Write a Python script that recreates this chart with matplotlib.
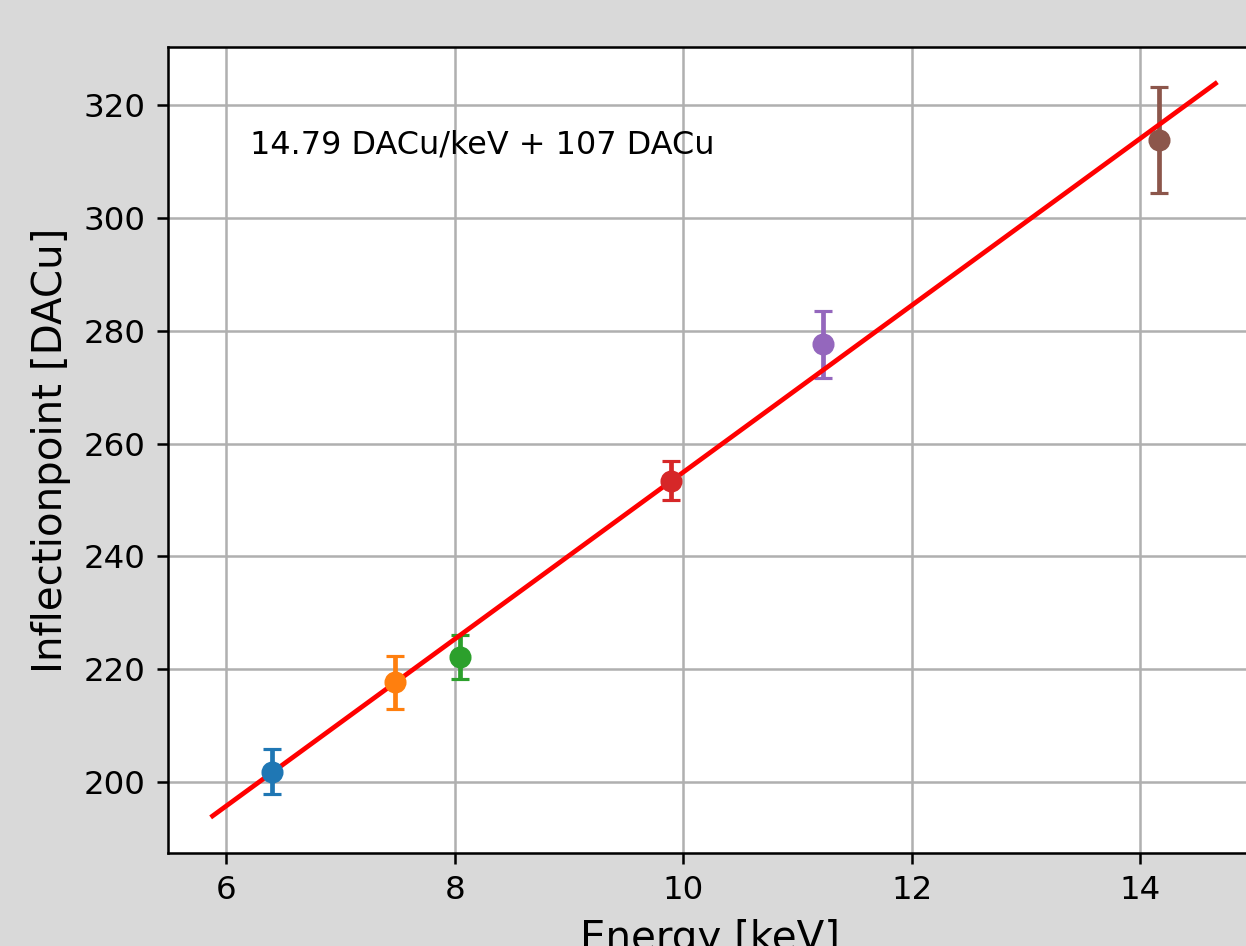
import numpy as np
import matplotlib
matplotlib.use("Agg")
import matplotlib.pyplot as plt

# Calibration points (energy in keV, inflection point in DACu)
energies = [6.40, 7.48, 8.05, 9.89, 11.22, 14.17]
inflection = [201.8, 217.7, 222.1, 253.4, 277.6, 313.8]
inflection_err = [4.0, 4.7, 3.9, 3.5, 5.9, 9.4]

# Linear fit result
slope = 14.79
offset = 107
fit_range = [5.88, 14.66]

dpi = 227
fig = plt.figure(figsize=(1246 / dpi, 946 / dpi), dpi=dpi, facecolor="#d9d9d9")
ax = fig.add_axes([168 / 1246, 93 / 946, 1084 / 1246, 806 / 946])

for i, (e, y, dy) in enumerate(zip(energies, inflection, inflection_err)):
    ax.errorbar(e, y, yerr=dy, fmt="o", color=f"C{i}", capsize=3)

x_fit = np.linspace(fit_range[0], fit_range[1], 100)
ax.plot(x_fit, slope * x_fit + offset, "r-")

ax.text(6.21, 313, f"{slope} DACu/keV + {offset} DACu", va="center", fontsize=10.1)

ax.set_xlim(5.49, 14.98)
ax.set_ylim(187.4, 330.3)
ax.set_xticks([6, 8, 10, 12, 14])
ax.tick_params(labelsize=10.3)
ax.set_xlabel("Energy [keV]", fontsize=12.8)
ax.set_ylabel("Inflectionpoint [DACu]", fontsize=12.8)
ax.grid(True)

fig.savefig("out.png", dpi=dpi, facecolor=fig.get_facecolor())
